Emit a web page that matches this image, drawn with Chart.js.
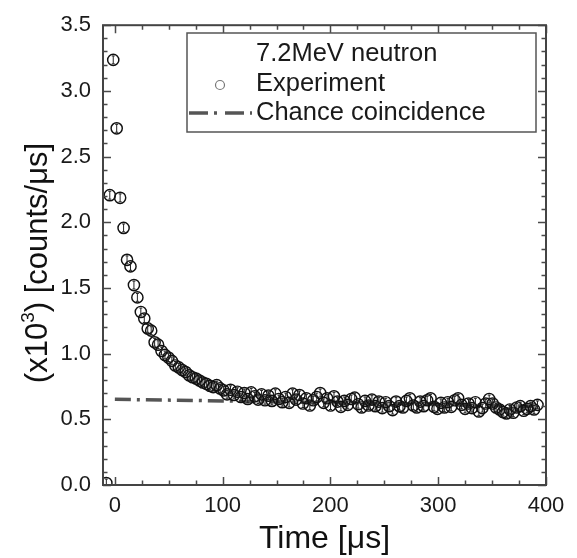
<!DOCTYPE html>
<html>
<head>
<meta charset="utf-8">
<script src="https://cdn.jsdelivr.net/npm/chart.js@4"></script>
<style>
html,body{margin:0;padding:0;background:#fff;}
#wrap{width:577px;height:558px;}
</style>
</head>
<body>
<div id="wrap"><canvas id="c" width="577" height="558"></canvas></div>
<script>
// ---- data ----
const timeUs = [-7.9,-4.7,-1.5,1.7,4.9,8.1,11.3,14.5,17.7,20.9,24.1,27.3,30.5,33.7,36.9,40.1,43.3,46.5,49.7,52.9,56.1,59.3,62.5,65.7,68.9,72.1,75.3,78.5,81.7,84.9,88.1,91.3,94.5,97.7,
100.9,104.1,107.3,110.5,113.7,116.9,120.1,123.3,126.5,129.7,132.9,136.1,139.3,142.5,145.7,148.9,152.1,155.3,158.5,161.7,164.9,168.1,171.3,174.5,177.7,180.9,184.1,187.3,190.5,193.7,196.9,
200.1,203.3,206.5,209.7,212.9,216.1,219.3,222.5,225.7,228.9,232.1,235.3,238.5,241.7,244.9,248.1,251.3,254.5,257.7,260.9,264.1,267.3,270.5,273.7,276.9,280.1,283.3,286.5,289.7,292.9,296.1,299.3,
302.5,305.7,308.9,312.1,315.3,318.5,321.7,324.9,328.1,331.3,334.5,337.7,340.9,344.1,347.3,350.5,353.7,356.9,360.1,363.3,366.5,369.7,372.9,376.1,379.3,382.5,385.7,388.9,392.1];
const counts = [0.015,2.206,3.236,2.715,2.186,1.957,1.714,1.664,1.522,1.428,1.317,1.267,1.192,1.175,1.086,1.068,1.02,0.99,0.97,0.945,0.91,0.895,0.875,0.86,0.835,0.82,0.81,0.795,0.78,0.77,0.755,0.745,0.76,0.735,
0.72,0.69,0.725,0.685,0.71,0.67,0.70,0.655,0.705,0.675,0.65,0.69,0.645,0.68,0.64,0.695,0.655,0.63,0.67,0.625,0.695,0.65,0.685,0.62,0.66,0.605,0.645,0.67,0.70,0.625,0.66,
0.605,0.675,0.635,0.595,0.64,0.61,0.655,0.665,0.615,0.59,0.64,0.605,0.65,0.60,0.635,0.585,0.63,0.60,0.57,0.635,0.60,0.59,0.64,0.66,0.605,0.59,0.635,0.60,0.645,0.66,0.595,0.58,
0.625,0.59,0.63,0.595,0.645,0.66,0.61,0.58,0.62,0.585,0.63,0.56,0.585,0.62,0.655,0.62,0.59,0.575,0.555,0.545,0.575,0.55,0.59,0.60,0.565,0.58,0.60,0.575,0.61];
const chanceTime = [0, 100, 200, 300, 390];
const chanceCounts = [0.652, 0.640, 0.627, 0.612, 0.598];
const xTicks = [0, 100, 200, 300, 400];
const yTicks = [0.0, 0.5, 1.0, 1.5, 2.0, 2.5, 3.0, 3.5];
const legendHeader = "7.2MeV neutron";
const seriesNames = ["Experiment", "Chance coincidence"];
const xTitle = "Time [\u03bcs]";
const yTitleParts = ["(x10", "3", ") [counts/\u03bcs]"];
const errHalf = 0.03;

const FONT = "'Liberation Sans', Arial, Helvetica, sans-serif";

const expPoints = timeUs.map((t, i) => ({x: t, y: counts[i]}));
const chancePoints = chanceTime.map((t, i) => ({x: t, y: chanceCounts[i]}));

const errorBars = {
  id: 'errorBars',
  afterDatasetsDraw(chart) {
    const {ctx, chartArea: a, scales: {y}} = chart;
    const meta = chart.getDatasetMeta(0);
    ctx.save();
    ctx.beginPath(); ctx.rect(a.left, a.top, a.right - a.left, a.bottom - a.top); ctx.clip();
    ctx.strokeStyle = '#222'; ctx.lineWidth = 1;
    meta.data.forEach((el, i) => {
      const v = counts[i];
      const y1 = y.getPixelForValue(v - errHalf), y2 = y.getPixelForValue(v + errHalf);
      ctx.beginPath();
      ctx.moveTo(el.x, y1); ctx.lineTo(el.x, y2);
      ctx.moveTo(el.x - 1.5, y1); ctx.lineTo(el.x + 1.5, y1);
      ctx.moveTo(el.x - 1.5, y2); ctx.lineTo(el.x + 1.5, y2);
      ctx.stroke();
    });
    ctx.restore();
  }
};

const frameTicks = {
  id: 'frameTicks',
  afterDraw(chart) {
    const {ctx, chartArea: a, scales: {x, y}} = chart;
    ctx.save();
    ctx.strokeStyle = '#4a4a4a';
    ctx.lineWidth = 1.5;
    const major = 8, minor = 4.5;
    for (let v = Math.ceil(x.min / 25) * 25; v <= x.max + 1e-6; v += 25) {
      const px = Math.round(x.getPixelForValue(v)) + 0.5;
      const len = (Math.abs(v % 100) < 1e-6) ? major : minor;
      ctx.beginPath();
      ctx.moveTo(px, a.bottom); ctx.lineTo(px, a.bottom - len);
      ctx.moveTo(px, a.top); ctx.lineTo(px, a.top + len);
      ctx.stroke();
    }
    for (let k = 0; k <= 35; k++) {
      const v = k / 10;
      const py = Math.round(y.getPixelForValue(v)) + 0.5;
      const len = (k % 5 === 0) ? major : minor;
      ctx.beginPath();
      ctx.moveTo(a.left, py); ctx.lineTo(a.left + len, py);
      ctx.moveTo(a.right, py); ctx.lineTo(a.right - len, py);
      ctx.stroke();
    }
    ctx.lineWidth = 2;
    ctx.strokeStyle = '#444';
    ctx.strokeRect(a.left, a.top, a.right - a.left, a.bottom - a.top);

    // y-axis title with superscript
    ctx.save();
    ctx.translate(36, 263);
    ctx.rotate(-Math.PI / 2);
    ctx.fillStyle = '#111';
    ctx.textBaseline = 'alphabetic';
    ctx.textAlign = 'left';
    const bigF = '31px ' + FONT, supF = '19px ' + FONT;
    ctx.font = bigF; const w0 = ctx.measureText(yTitleParts[0]).width;
    const w2 = ctx.measureText(yTitleParts[2]).width;
    ctx.font = supF; const w1 = ctx.measureText(yTitleParts[1]).width;
    let sx = -(w0 + w1 + w2) / 2;
    const base = 11;
    ctx.font = bigF; ctx.fillText(yTitleParts[0], sx, base); sx += w0;
    ctx.font = supF; ctx.fillText(yTitleParts[1], sx, base - 13); sx += w1;
    ctx.font = bigF; ctx.fillText(yTitleParts[2], sx, base);
    ctx.restore();

    // legend box
    const bx = 187, by = 33, bw = 349, bh = 99;
    ctx.fillStyle = '#fff';
    ctx.fillRect(bx, by, bw, bh);
    ctx.lineWidth = 1.5;
    ctx.strokeStyle = '#555';
    ctx.strokeRect(bx, by, bw, bh);
    ctx.fillStyle = '#1a1a1a';
    ctx.font = '25.5px ' + FONT;
    ctx.textBaseline = 'middle';
    ctx.textAlign = 'left';
    const tx = 256;
    ctx.fillText(legendHeader, tx, 54);
    ctx.fillText(chart.data.datasets[0].label, tx, 84);
    ctx.fillText(chart.data.datasets[1].label, tx, 113);
    ctx.beginPath();
    ctx.arc(220, 85, 4.5, 0, Math.PI * 2);
    ctx.strokeStyle = '#777'; ctx.lineWidth = 1.2;
    ctx.stroke();
    ctx.beginPath();
    ctx.setLineDash([19, 6, 3, 8]);
    ctx.lineWidth = 3.5; ctx.strokeStyle = '#555';
    ctx.moveTo(189, 113); ctx.lineTo(252, 113);
    ctx.stroke();
    ctx.restore();
  }
};

new Chart(document.getElementById('c'), {
  type: 'scatter',
  data: {
    datasets: [
      {
        label: seriesNames[0],
        data: expPoints,
        pointStyle: 'circle',
        pointRadius: 5.6,
        pointHoverRadius: 5.6,
        borderColor: '#111',
        backgroundColor: 'rgba(0,0,0,0)',
        borderWidth: 1.45,
        clip: 0,
        order: 1
      },
      {
        type: 'line',
        label: seriesNames[1],
        data: chancePoints,
        borderColor: '#555',
        borderWidth: 3.5,
        borderDash: [16, 6, 3, 6],
        pointRadius: 0,
        fill: false,
        tension: 0,
        order: 2
      }
    ]
  },
  options: {
    responsive: false,
    animation: false,
    events: [],
    layout: {padding: {top: 15, right: 31, left: 0, bottom: 0}},
    plugins: {legend: {display: false}, tooltip: {enabled: false}},
    scales: {
      x: {
        type: 'linear', position: 'bottom', min: -11, max: 400,
        afterBuildTicks(s) { s.ticks = xTicks.map(v => ({value: v})); },
        afterFit(s) { s.height = 73; },
        grid: {display: false, drawTicks: false},
        border: {display: false},
        ticks: {padding: 8, color: '#1a1a1a', font: {family: FONT, size: 22}, maxRotation: 0, callback: v => String(v)},
        title: {display: true, text: xTitle, color: '#111', font: {family: FONT, size: 32}, padding: {top: 0, bottom: 0}}
      },
      y: {
        type: 'linear', position: 'left', min: 0, max: 3.5,
        afterBuildTicks(s) { s.ticks = yTicks.map(v => ({value: v})); },
        afterFit(s) { s.width = 103; },
        grid: {display: false, drawTicks: false},
        border: {display: false},
        ticks: {padding: 12, color: '#1a1a1a', font: {family: FONT, size: 22}, callback: v => Number(v).toFixed(1)},
        title: {display: false}
      }
    }
  },
  plugins: [errorBars, frameTicks]
});
</script>
</body>
</html>
